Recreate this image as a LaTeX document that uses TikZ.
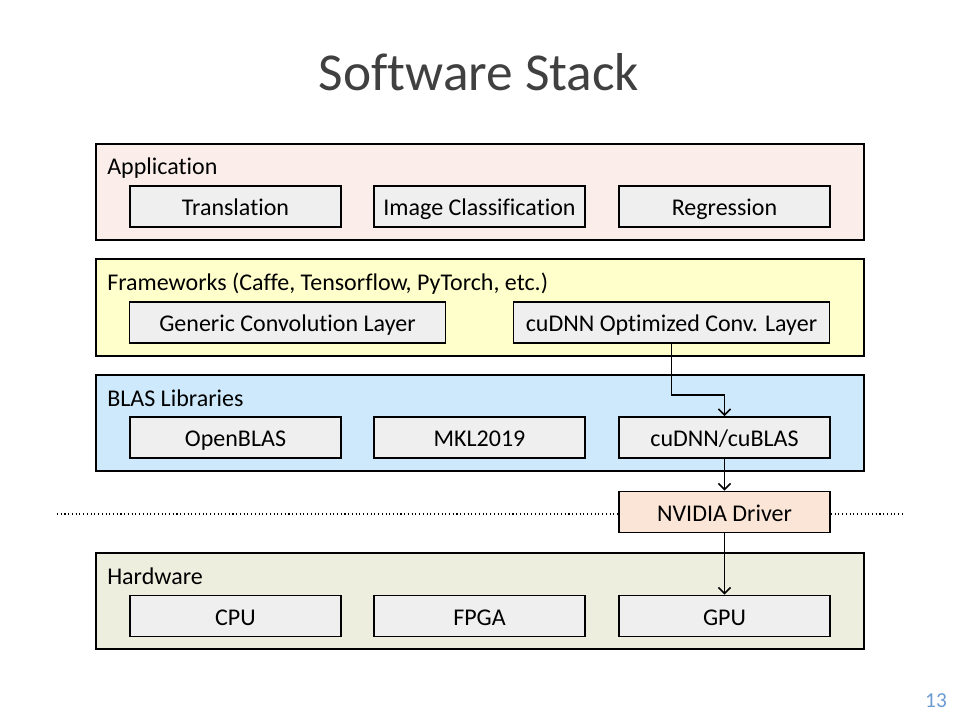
\documentclass[tikz,border=0pt]{standalone}
\usepackage{fontspec}
\setmainfont{Carlito}[Ligatures=NoCommon]
\usetikzlibrary{calc,positioning,arrows.meta}
\definecolor{appfill}{HTML}{FBEEEA}
\definecolor{frmfill}{HTML}{FFFFCC}
\definecolor{blasfill}{HTML}{CDE9FB}
\definecolor{hwfill}{HTML}{EEEEDF}
\definecolor{boxfill}{HTML}{EFEFEF}
\definecolor{drvfill}{HTML}{FBE5D6}
\definecolor{titlegray}{HTML}{404040}
\definecolor{pagenum}{HTML}{6C9BD2}

\begin{document}
\begin{tikzpicture}[x=0.75pt,y=-0.75pt,
		layer/.style={draw, line width=1.5pt, minimum width=576pt, minimum height=72pt, inner sep=0pt},
		item/.style={draw, line width=1.4pt, fill=boxfill, minimum width=158.25pt, minimum height=30.75pt, inner sep=0pt, text height=14pt, text depth=0pt, font=\fontsize{18}{21}\selectfont},
		wideitem/.style={item, minimum width=237pt},
		layername/.style={anchor=base west, inner sep=0pt, font=\fontsize{18}{21}\selectfont},
		flow/.style={line width=1.2pt, -{Straight Barb[length=4.5pt,width=9pt,line width=1.2pt]}}]
			\useasboundingbox (0,0) rectangle (960,720);
			% title
			\node[text=titlegray, font=\fontsize{40}{48}\selectfont] (title) at (479,72) {Software Stack};
			% layers
			\node[layer, fill=appfill] (app) at (480,192) {};
			\node[layer, fill=frmfill] (frm) at (480,307.5) {};
			\node[layer, fill=blasfill] (blas) at (480,422.5) {};
			\node[layer, fill=hwfill] (hw) at (480,601) {};
			\node[layername] (appname) at (107,175) {Application};
			\node[layername] (frmname) at (107,291) {Frameworks (Caffe, Tensorflow, PyTorch, etc.)};
			\node[layername] (blasname) at (107,406) {BLAS Libraries};
			\node[layername] (hwname) at (107,584) {Hardware};
			% application
			\node[item] (trans) at (235.5,206.5) {Translation};
			\node[item] (imgcls) at (479.5,206.5) {Image Classification};
			\node[item] (regr) at (724.5,206.5) {Regression};
			% frameworks
			\node[wideitem] (generic) at (287.5,322.5) {Generic Convolution Layer};
			\node[wideitem] (cudnnconv) at (671.5,322.5) {cuDNN Optimized Conv. Layer};
			% blas
			\node[item] (openblas) at (235.5,437.5) {OpenBLAS};
			\node[item] (mkl) at (479.5,437.5) {MKL2019};
			\node[item] (cublas) at (724.5,437.5) {cuDNN/cuBLAS};
			% driver and dotted line
			\node[item, fill=drvfill] (driver) at (724.5,512) {NVIDIA Driver};
			\coordinate (L) at (57,514);
			\coordinate (R) at (903,514);
			\draw[dotted, line width=0.8pt] (L) -- (L-|driver.west);
			\draw[dotted, line width=0.8pt] (R-|driver.east) -- (R);
			% hardware
			\node[item] (cpu) at (235.5,616) {CPU};
			\node[item] (fpga) at (479.5,616) {FPGA};
			\node[item] (gpu) at (724.5,616) {GPU};
			% arrows
			\coordinate (bend) at ($(cudnnconv.south)+(0,51)$);
			\draw[flow] (cudnnconv.south) -- (bend) -- (bend-|cublas.north) -- (cublas.north);
			\draw[flow] (cublas.south) -- (driver.north);
			\draw[flow] (driver.south) -- (gpu.north);
			\node[text=pagenum, font=\fontsize{16}{19}\selectfont] (page) at (936,701) {13};
		\end{tikzpicture}
\end{document}
